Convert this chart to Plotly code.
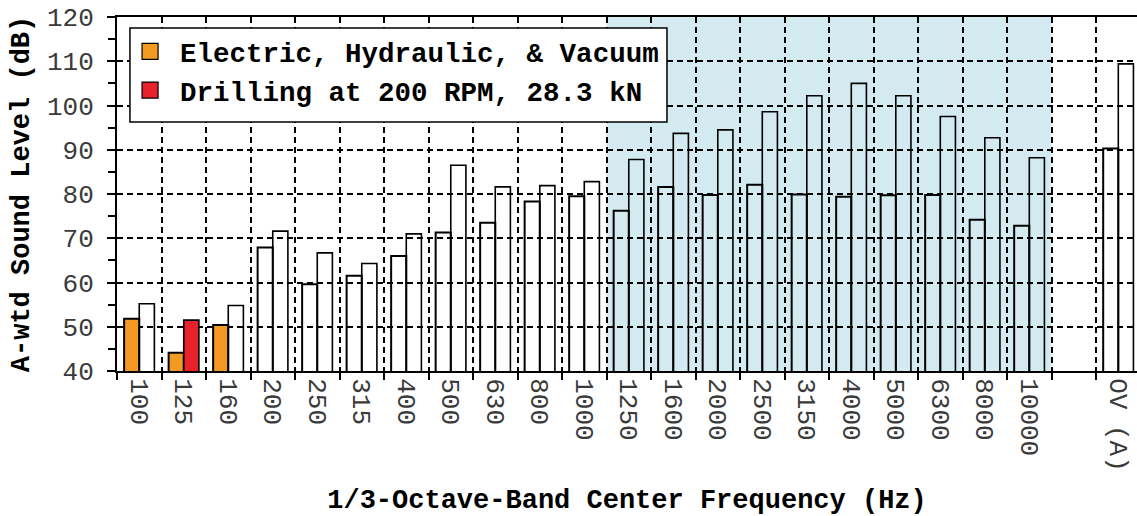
import plotly.graph_objects as go

# 1/3-octave band centre frequencies (Hz) plus overall A-weighted level
bands = ['100', '125', '160', '200', '250', '315', '400', '500', '630', '800', '1000',
         '1250', '1600', '2000', '2500', '3150', '4000', '5000', '6300', '8000', '10000', 'OV (A)']
# slot index on the axis (one empty slot before the overall level)
slots = list(range(21)) + [22]

# first bar of each pair (Electric, Hydraulic, & Vacuum) and second bar (Drilling)
level_a = [51.8, 44.1, 50.4, 67.9, 59.6, 61.5, 66.0, 71.3, 73.5, 78.3, 79.5,
           76.2, 81.6, 79.8, 82.1, 79.9, 79.4, 79.7, 79.8, 74.2, 72.8, 90.3]
level_b = [55.2, 51.5, 54.8, 71.6, 66.7, 64.3, 71.0, 86.5, 81.6, 81.9, 82.8,
           87.8, 93.7, 94.5, 98.6, 102.2, 105.0, 102.2, 97.5, 92.7, 88.2, 109.4]

ORANGE = '#f29a21'
RED = '#e8222a'
CLEAR = 'rgba(0,0,0,0)'
FONT = 'Liberation Mono'

# only low bands are filled, the rest are open bars
fill_a = [ORANGE if b in ('100', '125', '160') else CLEAR for b in bands]
fill_b = [RED if b == '125' else CLEAR for b in bands]

fig = go.Figure()
fig.add_trace(go.Bar(x=slots, y=level_a, marker=dict(color=fill_a, line=dict(color='black', width=2)),
                     showlegend=False))
fig.add_trace(go.Bar(x=slots, y=level_b, marker=dict(color=fill_b, line=dict(color='black', width=1.6)),
                     showlegend=False))

# legend entries
fig.add_trace(go.Scatter(x=[None], y=[None], mode='markers', name='Electric, Hydraulic, & Vacuum',
                         marker=dict(symbol='square', size=19, color=ORANGE, line=dict(color='black', width=1.2))))
fig.add_trace(go.Scatter(x=[None], y=[None], mode='markers', name='Drilling at 200 RPM, 28.3 kN',
                         marker=dict(symbol='square', size=19, color=RED, line=dict(color='black', width=1.2))))

# shaded band 1250 - 10000 Hz
fig.add_shape(type='rect', xref='x', yref='y', x0=10.5, x1=20.5, y0=40, y1=120,
              fillcolor='#d3ebf0', line=dict(width=0), layer='below')

# legend box (drawn as a shape so it can be padded like the original)
fig.add_shape(type='rect', xref='paper', yref='paper', x0=0.0127, x1=0.5392, y0=0.7034, y1=0.9689,
              fillcolor='white', line=dict(color='black', width=1.5), layer='above')

fig.update_layout(
    width=1137, height=516,
    margin=dict(l=117, r=0, t=17, b=145),
    paper_bgcolor='white', plot_bgcolor='white',
    barmode='group', bargap=0.32, bargroupgap=0,
    font=dict(family=FONT, color='black'),
    legend=dict(x=0.003, y=0.972, xanchor='left', yanchor='top',
                bgcolor='rgba(0,0,0,0)', borderwidth=0,
                font=dict(family=FONT, size=27.5, weight='bold', color='black'),
                itemwidth=50, tracegroupgap=0),
)

fig.update_xaxes(
    range=[-0.5, 22.42], tickmode='array', tickvals=slots, ticktext=bands,
    tickangle=90, ticks='', showgrid=False,
    tickfont=dict(family=FONT, size=26, color='#3a3a3a'),
    showline=True, linecolor='black', linewidth=2, mirror=True,
    minor=dict(tickmode='linear', tick0=0.5, dtick=1, ticks='outside', ticklen=7,
               tickwidth=1.5, tickcolor='black', showgrid=True, gridcolor='black',
               griddash='6px,4px', gridwidth=1.5),
    title=dict(text='1/3-Octave-Band Center Frequency (Hz)', standoff=20,
               font=dict(family=FONT, size=27, weight='bold', color='black')),
    zeroline=False,
)

fig.update_yaxes(
    range=[40, 120], tickmode='linear', tick0=40, dtick=10,
    ticks='outside', ticklen=8, tickwidth=1.5, tickcolor='black',
    ticklabelstandoff=8,
    tickfont=dict(family=FONT, size=26, color='#3a3a3a'),
    showgrid=True, gridcolor='black', griddash='6px,4px', gridwidth=1.5,
    showline=True, linecolor='black', linewidth=2, mirror=False,
    minor=dict(tickmode='linear', tick0=45, dtick=10, ticks='outside', ticklen=7,
               tickwidth=1.5, tickcolor='black', showgrid=False),
    title=dict(text='A-wtd Sound Level (dB)', standoff=10,
               font=dict(family=FONT, size=27, weight='bold', color='black')),
    zeroline=False,
)

# drop the default page margin so the figure sits at the window's corner
fig.write_html('out.html', config={'displayModeBar': False},
               post_script="document.body.style.margin='0';")
